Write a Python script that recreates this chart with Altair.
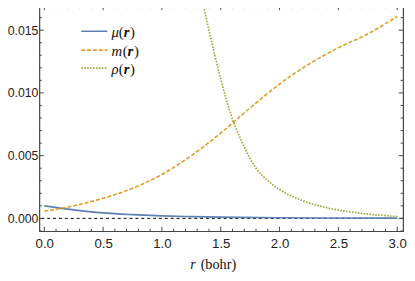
import altair as alt
import pandas as pd

# ---- data ----
r_mu = [0.0, 0.25, 0.5, 0.75, 1.0, 1.25, 1.5, 2.0, 2.5, 3.0]
mu_vals = [0.00100, 0.00068, 0.00044, 0.00030, 0.00020, 0.00014, 0.00010, 0.00005, 0.00003, 0.00002]

r_m = [0.0, 0.25, 0.5, 0.75, 1.0, 1.25, 1.5, 1.75, 2.0, 2.25, 2.5, 2.75, 3.0]
m_vals = [0.00057, 0.0010, 0.0016, 0.0024, 0.0035, 0.0050, 0.0068, 0.0088, 0.0107, 0.0123, 0.0136, 0.0147, 0.0161]

r_rho = [1.3, 1.4, 1.5, 1.6, 1.7, 1.8, 1.9, 2.0, 2.2, 2.4, 2.6, 2.8, 3.0]
rho_vals = [0.0192, 0.0150, 0.0111, 0.0079, 0.0057, 0.0040, 0.0030, 0.0023, 0.0014, 0.00085, 0.00052, 0.00030, 0.00015]

x_major = [0.0, 0.5, 1.0, 1.5, 2.0, 2.5, 3.0]
x_minor = [i / 10 for i in range(0, 31) if i % 5 != 0]
y_major = [0.0, 0.005, 0.010, 0.015]
y_minor = [i / 1000 for i in range(-1, 17) if i % 5 != 0]

series_names = ["μ", "m", "ρ"]
colors = ["#5E81B5", "#E19C24", "#8FB032"]

# ---- layout ----
W, H = 371, 230
FRAME = "#444444"
x_scale = alt.Scale(domain=[-0.0417, 3.05], nice=False, zero=False)
y_scale = alt.Scale(domain=[-0.00102, 0.01695], nice=False, zero=False)

df_mu = pd.DataFrame({"r": r_mu, "v": mu_vals})
df_m = pd.DataFrame({"r": r_m, "v": m_vals})
df_rho = pd.DataFrame({"r": r_rho, "v": rho_vals})

x_axis = alt.Axis(values=x_major, format=".1f", title=None, grid=False, domain=False,
                  ticks=False, labelFont="Liberation Sans", labelFontSize=13.5,
                  labelColor="#222222", labelPadding=6)
y_axis = alt.Axis(values=y_major, format=".3f", title=None, grid=False, domain=False,
                  ticks=False, labelFont="Liberation Sans", labelFontSize=12.5,
                  labelColor="#222222", labelPadding=1.5)

X = lambda f: alt.X(f, scale=x_scale, axis=x_axis)
Y = lambda f: alt.Y(f, scale=y_scale, axis=y_axis)

zero = alt.Chart(pd.DataFrame({"v": [0.0]})).mark_rule(
    color="black", strokeWidth=1, strokeDash=[3, 3]
).encode(y=Y("v:Q"))

mu_line = alt.Chart(df_mu).mark_line(color=colors[0], strokeWidth=1.6, interpolate="monotone", clip=True).encode(
    x=X("r:Q"), y=Y("v:Q"))
m_line = alt.Chart(df_m).mark_line(color=colors[1], strokeWidth=1.6, strokeDash=[4, 2],
                                   interpolate="monotone", clip=True).encode(x=X("r:Q"), y=Y("v:Q"))
rho_line = alt.Chart(df_rho).mark_line(color=colors[2], strokeWidth=1.7, strokeDash=[1.6, 1.4],
                                       interpolate="monotone", clip=True).encode(x=X("r:Q"), y=Y("v:Q"))

def xticks(vals, length):
    d = pd.DataFrame({"t": vals})
    bottom = alt.Chart(d).mark_rule(color=FRAME, strokeWidth=1).encode(
        x=X("t:Q"), y=alt.value(H), y2=alt.value(H - length))
    top = alt.Chart(d).mark_rule(color=FRAME, strokeWidth=1).encode(
        x=X("t:Q"), y=alt.value(0), y2=alt.value(length))
    return [bottom, top]

def yticks(vals, length):
    d = pd.DataFrame({"t": vals})
    left = alt.Chart(d).mark_rule(color=FRAME, strokeWidth=1).encode(
        y=Y("t:Q"), x=alt.value(0), x2=alt.value(length))
    right = alt.Chart(d).mark_rule(color=FRAME, strokeWidth=1).encode(
        y=Y("t:Q"), x=alt.value(W), x2=alt.value(W - length))
    return [left, right]

tick_layers = xticks(x_major, 4.5) + xticks(x_minor, 2.5) + yticks(y_major, 4.5) + yticks(y_minor, 2.5)

# ---- legend (inside plot, top-left) ----
leg_rows_y = [26, 45.3, 63.7]
dashes = [[1, 0], [4, 2], [1.6, 1.4]]
legend_layers = []
one = pd.DataFrame({"a": [0]})
LX = 73.5
for i, (name, col, dash, yy) in enumerate(zip(series_names, colors, dashes, leg_rows_y)):
    legend_layers.append(
        alt.Chart(one).mark_rule(color=col, strokeWidth=1.6, strokeDash=dash).encode(
            x=alt.value(42.7), x2=alt.value(69.3), y=alt.value(yy))
    )
    first_w = 11.5 if name == "m" else 7.5
    pieces = [(name, "italic", "normal", LX),
              ("(", "normal", "normal", LX + first_w),
              ("r", "italic", "bold", LX + first_w + 5),
              (")", "normal", "normal", LX + first_w + 11.5)]
    for txt, style, weight, xx in pieces:
        legend_layers.append(
            alt.Chart(one).mark_text(text=txt, font="Liberation Serif", fontSize=15,
                                     fontStyle=style, fontWeight=weight, align="left",
                                     baseline="middle", color="#111111").encode(
                x=alt.value(xx), y=alt.value(yy + 0.5))
        )

# ---- x axis title "r (bohr)" ----
title_layers = [
    alt.Chart(one).mark_text(text="r", font="Liberation Serif", fontSize=14.5, fontStyle="italic",
                             align="left", baseline="alphabetic", color="#111111").encode(
        x=alt.value(154), y=alt.value(269)),
    alt.Chart(one).mark_text(text="(bohr)", font="Liberation Serif", fontSize=14.5,
                             align="left", baseline="alphabetic", color="#111111").encode(
        x=alt.value(164.5), y=alt.value(269)),
]

chart = alt.layer(
    zero, mu_line, m_line, rho_line, *tick_layers, *legend_layers, *title_layers
).properties(
    width=W, height=H,
    autosize=alt.AutoSizeParams(type="none"),
    padding={"left": 32, "top": -5, "right": 4, "bottom": 40},
).configure_view(stroke=FRAME, strokeWidth=1.2)

chart.save("out.html", embed_options={"renderer": "svg", "actions": False})
